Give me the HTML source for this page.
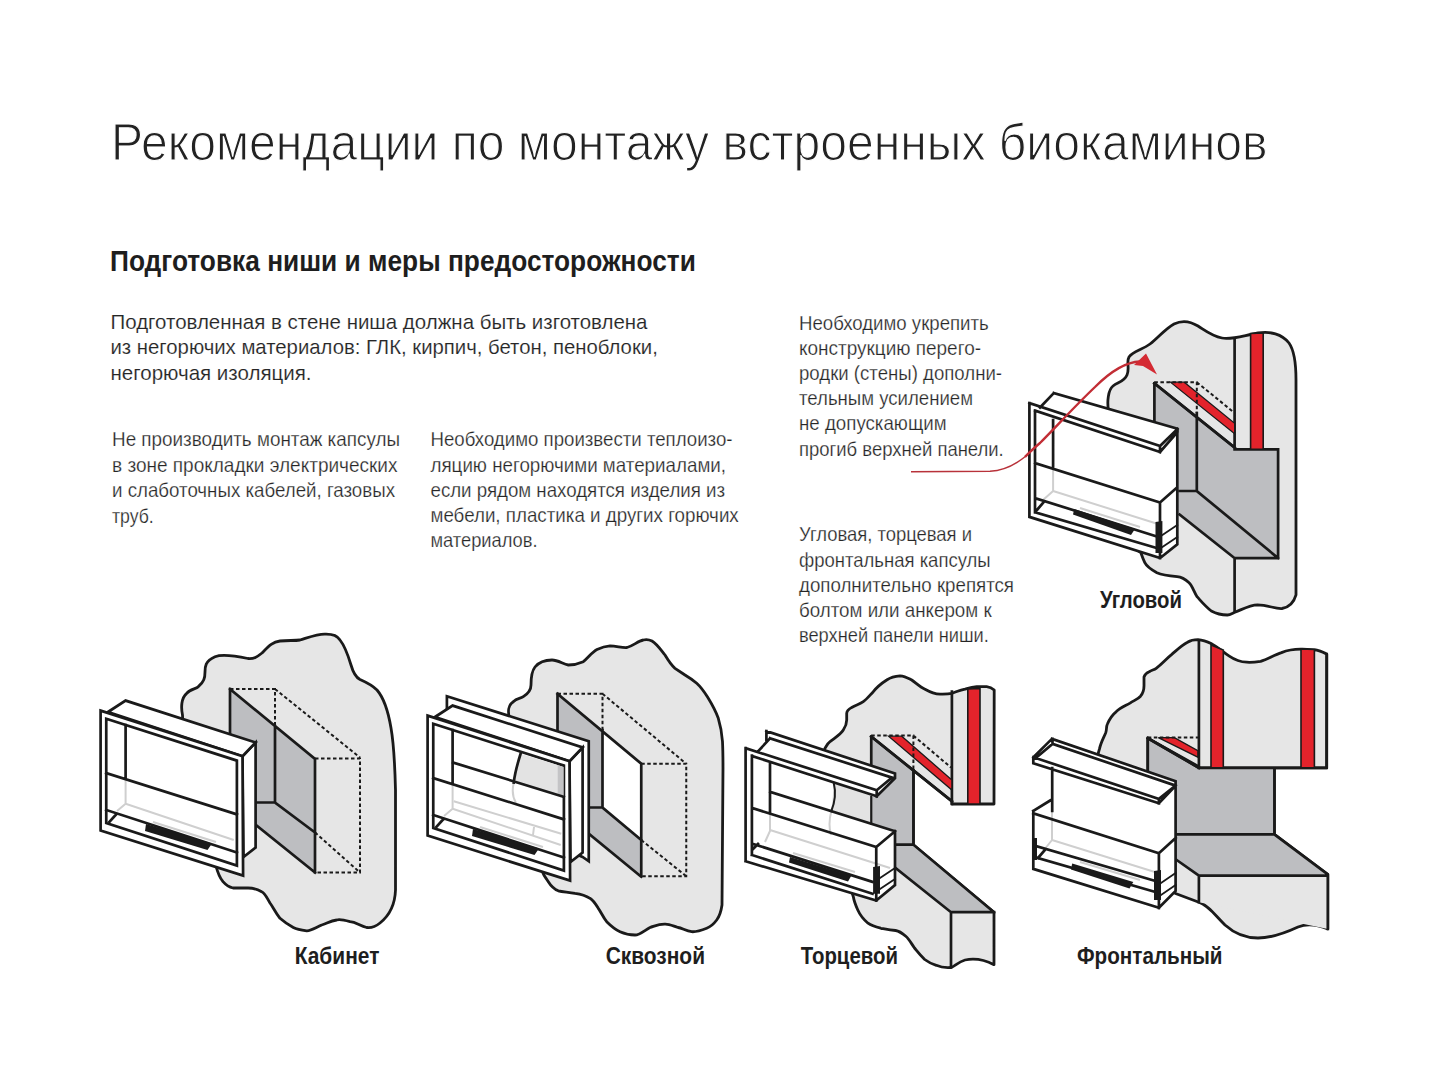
<!DOCTYPE html>
<html><head><meta charset="utf-8"><style>
html,body{margin:0;padding:0;background:#fff;width:1440px;height:1080px;overflow:hidden}
svg{display:block;font-family:"Liberation Sans",sans-serif}
</style></head><body>
<svg width="1440" height="1080" viewBox="0 0 1440 1080">
<defs>
<style>
.b{fill:#e6e6e6;stroke:#1a1a1a;stroke-width:2.8;stroke-linejoin:round}
.g{fill:#bdbec1}
.gl{fill:#bdbec1;stroke:#1a1a1a;stroke-width:2.4;stroke-linejoin:miter}
.l{fill:none;stroke:#1a1a1a;stroke-width:2.7;stroke-linecap:square}
.d{fill:none;stroke:#1a1a1a;stroke-width:2;stroke-dasharray:3.5 2.5}
.w{fill:#fff;stroke:#1a1a1a;stroke-width:2.7;stroke-linejoin:miter}
.lg{fill:none;stroke:#cfcfcf;stroke-width:2}
.bk{fill:#1a1a1a}
.r{fill:#e3232b;stroke:#1a1a1a;stroke-width:1.6}
</style>
</defs>

<!-- ===== 1 Кабинет ===== -->
<g id="kab">
<path class="b" d="M216,866 C205,845 183,740 182.5,715 C181,708 181,698 186.7,693.3 C190,689 196,689 198.3,686.7 C204,682 205,678 205,672 C205,667 205,661 215,656.7 C222,654 236,656 248,658.5 C254,659 257,657 262,653 C268,647 272,642 280,641 C288,640 294,641 300,640 C310,637 318,634 325,634.2 C332,634 337,635 340,640 C344,645 348,655 351,665 C353,672 355,677 360,679.5 C368,683 372,685 377,690 C383,697 388,710 391,728 C394,745 395,770 395.5,790 L395.5,890 C395,905 390,915 380,923 C375,927 370,928 366.7,927.5 C360,926 356,922 350,921.7 C344,920 340,919 336.7,920 C330,921 326,924 321.7,925 C315,928 311,931 306.7,930.8 C300,930 296,929 293.3,927.5 C287,924 283,921 280,918.3 C275,912 273,907 270,903 C267,898 265,893 261.7,891.7 C257,889 253,888 248,888 L233,888 C228,887 225,884 223,881.7 C220,878 218,874 216,866 Z"/>
<polygon class="g" points="230,689 315,759 315,872.5 256,825 230,806"/>
<path class="l" d="M256,825 L315,872.5 M230,689 L315,759 L315,872.5 M275,726 L275,802.5 L315,832.5 M256,802.5 L275,802.5 M230,689 L230,740"/>
<path class="d" d="M230,689 H275 V726 M275,689 L360,757.5 M315,758.5 H360 V872.5 H315 M315,832.5 L360,872.5"/>
</g>
<g id="cap1">
<polygon class="w" points="242.5,756.25 255.6,742.5 255.6,847.5 243.5,857"/>
<polygon class="w" points="108,712 125.6,700.6 255.6,742.5 242.5,756.25"/>
<polygon class="w" points="100.6,710.6 242.5,756.25 243.1,875.6 100.6,830.6"/>
<polygon class="w" points="106.25,718.75 236.9,760.6 236.9,865.6 106.25,823"/>
<path class="lg" d="M125.6,779 V803.75 L233.75,840 M125.6,803.75 L117,811 M153,822 L216,842"/>
<path class="l" d="M125.6,725 V778.75 M106.25,773 L236.9,814.4 M106.25,810 L236.9,852.5 M109.4,821.9 L115.6,815"/>
<polygon class="bk" points="146,824 212,843.5 207.5,850 145,831"/>
</g>
<!-- ===== 2 Сквозной ===== -->
<g id="skv">
<path class="b" d="M543,873 C530,840 510,745 509.2,716.7 C508,712 508,705 513.3,701.7 C517,698 520,699 523.3,696.7 C529,693 531,690 531,685 C531,680 531,672 535,667 C540,661 546,660 552,660 C558,660 563,664 568.3,665 C574,665 578,664 583.3,661.7 C588,658 592,652 597,649.5 C602,647 606,646 610,645.8 C617,646 622,648 627,647.5 C633,646 638,641 643.3,640 C647,639 650,640 652,641 C657,644 661,650 665,655 C668,660 671,665 675,668.3 C679,671 682,673 685,675 C690,678 693,680 696.7,683.3 C702,688 705,693 708.3,698.3 C713,706 716,712 718.3,718.3 C721,727 722,735 722.5,741.7 C723,752 723,760 723,768 L722,905 C721,912 719,917 716.7,920 C713,925 710,927 706.7,928.3 C700,931 696,932 691.7,931.7 C686,931 682,928 678,927.5 C673,926 669,924 665,924.2 C659,924 655,926 650,927.5 C645,930 640,935 635,935 C630,935 625,934 620,931.7 C614,929 610,925 606.7,921.7 C603,917 601,912 598.3,908.3 C595,903 593,900 590,898.3 C585,895 580,894 575,893.3 C569,892 563,892 558.3,890.8 C554,889 551,886 548.3,881.7 C546,878 544,876 543,873 Z"/>
<polygon class="g" points="557.5,693.75 602.5,731 602.5,807.5 641.25,840 641.25,877.5 590,835 557.5,810"/>
<polygon fill="#fff" points="602.5,731 641.25,763.75 641.25,840 602.5,807.5"/>
<path class="l" d="M588.3,833.3 L641.25,876.7 M557.5,693.75 L641.25,763.75 V876.25 M602.5,730 V807.5 L641.25,840 M590,807.5 H602.5 M557.5,693.75 V745"/>
<path class="d" d="M557.5,693.75 H602.5 V730 M602.5,693.75 L686.25,763.75 M641.25,763.75 H686.25 V876.25 H641.25 M641.25,840 L686.25,876.25"/>
<polygon class="w" points="446.9,696.25 588.75,741.25 588.75,861.25 582.6,857 446.9,800"/>
<g transform="translate(327,5)">
<polygon class="w" points="242.5,756.25 255.6,742.5 255.6,847.5 243.5,857"/>
<polygon class="w" points="108,712 125.6,700.6 255.6,742.5 242.5,756.25"/>
<polygon class="w" points="100.6,710.6 242.5,756.25 243.1,875.6 100.6,830.6"/>
<polygon class="w" points="106.25,718.75 236.9,760.6 236.9,865.6 106.25,823"/>
</g>
<polygon fill="#e3e3e3" points="520.6,753.75 557.5,765 557.5,794.5 513.75,781"/>
<polygon fill="#c4c4c6" points="557.5,765 563.75,767 563.75,797 557.5,795"/>
<path class="lg" d="M513.75,783 C512,790 513,798 516,803 M453.75,801.25 L561.25,833.75 M534,827 L533,835"/>
<path class="l" d="M520.6,753.75 C518,762 515,772 513.75,782.5 M453.1,762.5 L563.75,796.9"/>
<g transform="translate(327,5)">
<path class="lg" d="M125.6,779 V803.75 L233.75,840 M125.6,803.75 L117,811 M153,822 L216,842"/>
<path class="l" d="M125.6,725 V778.75 M106.25,773 L236.9,814.4 M106.25,810 L236.9,852.5 M109.4,821.9 L115.6,815"/>
<polygon class="bk" points="146,824 212,843.5 207.5,850 145,831"/>
</g>
</g>
<!-- ===== 3 Торцевой ===== -->
<g id="torc">
<path class="b" d="M845,865 C830,830 815,770 825,748.3 C827,745 828,743 830,741.7 C836,737 841,734 843.3,730 C846,726 846.7,723 846.7,720 L846.7,713.3 C847,710 849,709 851.7,707.5 C856,705 860,704 863.3,701.7 C867,699 870,695 873.3,691.7 C877,687 882,683 886.7,680 C891,677 896,676 900,675.8 C905,676 908,678 911.7,680 C916,683 920,687 925,689.2 C930,692 935,694 940,694.2 C944,694 948,694 951.7,693.3 C956,692 960,690 965,689.2 C969,688 972,687 976.7,686.7 L986.7,686.7 C990,687 992,688 994.2,690 L994,804 L951.9,804 L951.9,801.25 L913.4,770.4 L913.4,844.7 L994,912.2 L994,964.7 C985,960 975,958 965,960 C958,962 955,966 951,967.5 C945,968 940,967 936.3,965.3 C932,964 928,962 924.7,959.5 C920,955 917,951 914.5,948 C911,943 909,939 905.8,936.3 C902,933 899,931 895.6,930.5 C890,930 885,929 881,928.3 C876,927 872,926 868,923.2 C863,919 860,915 857.8,910 C856,906 854,901 853.4,897 C851,890 848,878 845,865 Z"/>
<polygon class="g" points="871.25,736.6 913.4,770.4 913.4,844.7 994,912.2 951,912.2 895.6,868 871.25,850"/>
<path class="l" d="M913.4,770.4 V844.7 M871.25,736.6 L913.4,770.4 M871.25,736.6 V850 M895.6,844.7 H913.4 M895.6,868 L951,912.2 H994 M951,912.2 V967.5 M913.4,844.7 L994,912.2 M951.9,691.6 V804"/>
<polygon class="r" points="967.8,689 980,688.5 980,804 967.8,804"/>
<polygon fill="#e3232b" stroke="#1a1a1a" stroke-width="1.3" points="888.5,736.2 901.7,736.2 951.9,780 951.9,790"/>
<path class="d" d="M871.25,735.6 H913.4 V770 M913.4,735.6 L951,767.5"/>
<path class="l" d="M871.25,736.6 L951.9,801.25"/>
<!-- capsule -->
<polygon fill="#fff" points="746.1,748.3 766.4,731.1 895,773.5 895,885 876.25,900.6 745.6,861.25"/>
<polygon fill="#e3e3e3" points="834,783 871.25,795 871.25,823.5 831.25,811.25"/>
<polygon class="g" points="871.25,797 876.7,797 895,778.3 895,831.25 871.25,823.75"/>
<path class="lg" d="M770,813 V831 L765,842 M770,830 L890,868 M831.25,811.25 C829,820 829,828 831,835 M793,853 L855,872"/>
<path class="l" d="M766.4,731.1 L895,773.5 V778.3 L876.7,796.3 M770,738.3 L892,777.6 L876.7,790.3 M746.1,748.3 L876.7,790.3 V796.3 M752.2,756.1 L876.7,796.3 M757.8,751.7 L770,738.3 M766.4,731.1 V740 M745.6,748.1 V861.25 M751.9,755.6 V855 M770,762.5 V813 M770,791.9 L895,831.25 M752.5,808.1 L876.25,847 L895,831.25 M876.25,847 V900.6 M895,831.25 V885 L876.25,900.6 L745.6,861.25 M751.9,855 L872.5,893.75 M752.5,843.75 L872.5,881.9 M753,849 L758,844"/>
<path class="l" d="M833.75,783 C836,792 835,802 831.25,811.25" style="stroke-width:2"/><path class="l" d="M871.25,797 V823.5" style="stroke-width:2.2"/>
<polygon class="bk" points="790,857 851.25,875.8 848,881.5 789,862.5"/>
<polygon class="bk" points="873.1,866.9 880,866 880,893.75 873.1,893.75"/>
<path class="l" d="M880,878 L895,868 M880,889 L895,879" style="stroke-width:1.8"/>
</g>
<!-- ===== 4 Фронтальный ===== -->
<g id="front">
<path class="b" d="M1090,860 C1080,830 1095,770 1097.8,757.1 C1098,753 1099,750 1099.6,748.4 C1101,742 1104,737 1105.7,732.7 C1107,729 1106,727 1107.4,724 C1110,718 1112,715 1116.1,711.8 C1120,708 1125,706 1130,703.1 C1135,700 1138,699 1140.5,696.2 C1144,692 1144,689 1144,685.7 L1144,677 C1145,674 1146,673 1149.2,671.8 C1152,670 1154,670 1156.2,668.3 C1162,664 1166,659 1171.8,654.4 C1178,649 1182,645 1187.5,642.2 C1191,640 1195,639.6 1198,639.6 C1204,640 1208,642 1211.9,643.9 C1218,647 1223,652 1229.3,656.1 C1235,660 1241,662 1246.7,662.2 C1251,662.5 1256,662 1260.6,661.3 C1268,659 1274,655 1281.5,652.6 C1288,650 1295,649 1302.4,649.2 L1316.3,650 C1320,651 1324,652 1326.8,654.4 L1326.7,767.8 L1198.9,767.8 L1198.9,766.7 L1147.8,738.2 L1147.8,770 L1274.4,767.8 L1274.4,834.4 L1327.8,874.4 L1327.8,928.9 C1318,925 1308,923 1298,927 C1285,933 1272,938 1258,938 C1245,938 1235,934 1225,925 C1215,915 1208,905 1198.9,902.2 L1176.2,893.7 L1150,880 Z"/>
<polygon class="g" points="1147.8,738.2 1198.9,767.8 1274.4,767.8 1274.4,834.4 1327.8,874.4 1198.9,875.6 1176.7,860 1147.8,860"/>
<polygon class="b" points="1198.9,875.6 1327.8,874.4 1327.8,928.9 1198.9,902.2" style="stroke:none"/>
<path class="l" d="M1147.8,738.2 L1198.9,767.8 M1147.8,738.2 V790 M1274.4,767.8 V834.4 H1176.7 M1274.4,834.4 L1327.8,874.4 V928.9 M1176.7,860 L1198.9,875.6 H1327.8 M1198.9,875.6 V902.2 M1198.9,641 V767.8 H1326.7 V654"/>
<polygon class="r" points="1211,645 1223.3,650 1223.3,767.8 1211,767.8"/>
<polygon class="r" points="1301,649 1314.4,649.5 1314.4,767.8 1301,767.8"/>
<polygon fill="#e3232b" stroke="#1a1a1a" stroke-width="1.3" points="1158.3,737.6 1174.4,737.6 1197.8,750.6 1197.8,757.2"/>
<path class="d" d="M1147.8,737.5 H1198.9"/>
<path class="l" d="M1147.8,738.2 L1198.9,767.8"/>
<!-- capsule -->
<polygon fill="#fff" points="1033.3,757.2 1051.9,738.9 1175.6,781.1 1175.6,891 1158.9,907.8 1033.3,868.9"/>
<path class="lg" d="M1052,812 V840 L1040,855 M1052,840 L1158,873 M1080,862 L1140,880"/>
<path class="l" d="M1051.9,738.9 L1175.6,781.1 V785.6 L1158.9,803.3 L1033.3,763.3 V757.2 L1051.9,738.9 M1052.5,743.9 L1175.6,785.6 M1052.5,743.9 L1037,757 M1052.5,738.9 V743.9 M1033.3,757.2 L1158.9,798.9 V803.3 M1158.9,798.9 L1175.6,785.6 M1052.2,768 V811 M1175.6,785.6 V891 L1158.9,907.8 M1033.3,811 L1051,800 M1033.3,811 V868.9 L1158.9,907.8 M1033.3,813.3 L1158.9,853.3 L1175.6,838 M1158.9,853.3 V907.8 M1038,858 L1158.9,893 M1036,846 L1158.9,882 M1038,858 L1045,850"/>
<polygon class="bk" points="1072.2,863.5 1133.3,882 1129.5,888.5 1071,869.5"/>
<polygon class="bk" points="1154,871 1161,870 1161,900 1154,900"/>
<polygon class="bk" points="1033.3,838 1037,838 1037,860 1033.3,860"/>
<path class="l" d="M1161,883 L1175.6,873 M1161,895 L1175.6,885" style="stroke-width:1.8"/>
</g>
<!-- ===== 5 Угловой ===== -->
<g id="ugl">
<path class="b" d="M1100,500 C1095,460 1105,420 1108.5,410.8 C1107,402 1108,390 1113,386 C1118,382 1124,382 1127,375 C1130,368 1126,362 1129,357 C1133,351 1142,350 1150,344 C1158,338 1165,329 1174,324 C1182,320 1190,321 1198,326 C1206,331 1212,336 1222,338 C1232,340 1245,335 1258,333 C1270,331 1282,334 1289,343 C1294,350 1296,360 1296,380 L1296,594.8 C1294,602 1290,607 1282,608.5 C1275,609 1268,605 1257.6,604.9 C1250,605 1243,609 1235.5,612 C1232,613.5 1230,615 1227.4,615 C1220,615 1215,613 1211.3,611 C1205,606 1201,601 1197.2,596.9 C1194,592 1192,585 1189.1,582.8 C1185,579 1181,577 1177.1,576.7 C1170,576 1162,575 1156.9,572.7 C1152,570 1147,567 1144.8,562.6 C1143,559 1142,556 1140.8,552.6 C1120,540 1105,520 1100,500 Z"/>
<polygon class="g" points="1154.4,383.3 1234.6,447.5 1234.6,449.3 1278.1,449.3 1278.1,558.1 1234.6,558.1 1179.6,514.6 1154.4,500"/>
<path class="l" d="M1154.4,383.3 L1234.6,447.5 M1154.4,383.3 V440 M1234.6,338.6 V449.3 H1278.1 V558.1 H1234.6 V610.8 M1196.8,413 V491 L1278.1,558.1 M1179.6,491 H1196.8 M1179.6,514.6 L1234.6,558.1"/>
<polygon class="r" points="1250.6,333.5 1263.2,333 1263.2,449.3 1250.6,449.3"/>
<polygon fill="#e3232b" stroke="#1a1a1a" stroke-width="1.2" points="1170.4,382.2 1184.2,382.2 1234.6,423.4 1234.6,433.75"/>
<path class="d" d="M1154.4,382.2 H1196.8 V413 M1196.8,382.2 L1233.4,412"/>
<path class="l" d="M1154.4,383.3 L1234.6,447.5"/>
<!-- capsule -->
<polygon fill="#fff" points="1029.4,403.1 1053.75,393.1 1177.5,428.75 1177.5,544.4 1160.1,558.1 1029.5,516.9"/>
<path class="lg" d="M1053.1,467.5 V491 L1043,500 M1053.1,491 L1158,524 M1080,508 L1140,527"/>
<path class="l" d="M1053.75,393.1 L1177.5,428.75 V432 L1160,452 M1029.4,403.1 L1160,446 V452 M1160,446 L1177.5,429 M1035,410.6 L1160,452 M1040,407.5 L1053.75,393.1 M1029.4,403.1 V516.9 L1160.1,558.1 L1177.3,544.4 V432 M1035,410.6 V512.3 M1053.1,420 V467.5 M1035,463.1 L1160,502.5 L1177,487.5 M1160,502.5 V558.1 M1036.4,498.5 L1160,537.5 M1035.2,512.3 L1160,549 M1037,510 L1043,503"/>
<polygon class="bk" points="1074.2,509 1134.9,529 1131,535 1073,514.5"/>
<polygon class="bk" points="1155.5,522 1162.4,521 1162.4,553 1155.5,553"/>
<path class="l" d="M1162.4,535 L1177.3,525 M1162.4,547 L1177.3,537" style="stroke-width:1.8"/>
</g>
<!-- red arrow -->
<path d="M911,471.8 L990,471.3 C1003,470.5 1015,465 1026,456" fill="none" stroke="#b8323a" stroke-width="1.5"/><path d="M1025,456.8 C1030,452 1035,447 1040,443 C1055,428 1075,406 1095,387 C1110,372 1125,362 1140,361.5" fill="none" stroke="#c22d35" stroke-width="2.4"/>
<polygon fill="#d42a33" points="1134,365 1146,353.5 1157,374.5 1143,366"/>

<text x="111" y="159.5" textLength="1156.5" lengthAdjust="spacingAndGlyphs" font-size="52.5" font-weight="normal" fill="#222" stroke="#fff" stroke-width="1.2">Рекомендации по монтажу встроенных биокаминов</text>
<text x="110" y="271.3" textLength="585.8" lengthAdjust="spacingAndGlyphs" font-size="30" font-weight="bold" fill="#1e1e1e">Подготовка ниши и меры предосторожности</text>
<text x="110.5" y="328.5" textLength="537" lengthAdjust="spacingAndGlyphs" font-size="21" font-weight="normal" fill="#262626" stroke="#fff" stroke-width="0.15">Подготовленная в стене ниша должна быть изготовлена</text>
<text x="110.5" y="354.0" textLength="547.3" lengthAdjust="spacingAndGlyphs" font-size="21" font-weight="normal" fill="#262626" stroke="#fff" stroke-width="0.15">из негорючих материалов: ГЛК, кирпич, бетон, пеноблоки,</text>
<text x="110.5" y="379.5" textLength="201" lengthAdjust="spacingAndGlyphs" font-size="21" font-weight="normal" fill="#262626" stroke="#fff" stroke-width="0.15">негорючая изоляция.</text>
<text x="112" y="446.0" textLength="288" lengthAdjust="spacingAndGlyphs" font-size="21" font-weight="normal" fill="#262626" stroke="#fff" stroke-width="0.25">Не производить монтаж капсулы</text>
<text x="112" y="471.5" textLength="285.5" lengthAdjust="spacingAndGlyphs" font-size="21" font-weight="normal" fill="#262626" stroke="#fff" stroke-width="0.25">в зоне прокладки электрических</text>
<text x="112" y="497.0" textLength="283" lengthAdjust="spacingAndGlyphs" font-size="21" font-weight="normal" fill="#262626" stroke="#fff" stroke-width="0.25">и слаботочных кабелей, газовых</text>
<text x="112" y="522.5" textLength="41.75" lengthAdjust="spacingAndGlyphs" font-size="21" font-weight="normal" fill="#262626" stroke="#fff" stroke-width="0.25">труб.</text>
<text x="430.5" y="446.25" textLength="302.0" lengthAdjust="spacingAndGlyphs" font-size="21" font-weight="normal" fill="#262626" stroke="#fff" stroke-width="0.25">Необходимо произвести теплоизо-</text>
<text x="430.5" y="471.55" textLength="295.5" lengthAdjust="spacingAndGlyphs" font-size="21" font-weight="normal" fill="#262626" stroke="#fff" stroke-width="0.25">ляцию негорючими материалами,</text>
<text x="430.5" y="496.85" textLength="294.5" lengthAdjust="spacingAndGlyphs" font-size="21" font-weight="normal" fill="#262626" stroke="#fff" stroke-width="0.25">если рядом находятся изделия из</text>
<text x="430.5" y="522.15" textLength="308.25" lengthAdjust="spacingAndGlyphs" font-size="21" font-weight="normal" fill="#262626" stroke="#fff" stroke-width="0.25">мебели, пластика и других горючих</text>
<text x="430.5" y="547.45" textLength="107.0" lengthAdjust="spacingAndGlyphs" font-size="21" font-weight="normal" fill="#262626" stroke="#fff" stroke-width="0.25">материалов.</text>
<text x="799" y="330.0" textLength="189.75" lengthAdjust="spacingAndGlyphs" font-size="21" font-weight="normal" fill="#262626" stroke="#fff" stroke-width="0.25">Необходимо укрепить</text>
<text x="799" y="355.1" textLength="182" lengthAdjust="spacingAndGlyphs" font-size="21" font-weight="normal" fill="#262626" stroke="#fff" stroke-width="0.25">конструкцию перего-</text>
<text x="799" y="380.2" textLength="203" lengthAdjust="spacingAndGlyphs" font-size="21" font-weight="normal" fill="#262626" stroke="#fff" stroke-width="0.25">родки (стены) дополни-</text>
<text x="799" y="405.3" textLength="174" lengthAdjust="spacingAndGlyphs" font-size="21" font-weight="normal" fill="#262626" stroke="#fff" stroke-width="0.25">тельным усилением</text>
<text x="799" y="430.4" textLength="147.60000000000002" lengthAdjust="spacingAndGlyphs" font-size="21" font-weight="normal" fill="#262626" stroke="#fff" stroke-width="0.25">не допускающим</text>
<text x="799" y="455.5" textLength="204.75" lengthAdjust="spacingAndGlyphs" font-size="21" font-weight="normal" fill="#262626" stroke="#fff" stroke-width="0.25">прогиб верхней панели.</text>
<text x="799" y="541.25" textLength="173" lengthAdjust="spacingAndGlyphs" font-size="21" font-weight="normal" fill="#262626" stroke="#fff" stroke-width="0.25">Угловая, торцевая и</text>
<text x="799" y="566.55" textLength="191.60000000000002" lengthAdjust="spacingAndGlyphs" font-size="21" font-weight="normal" fill="#262626" stroke="#fff" stroke-width="0.25">фронтальная капсулы</text>
<text x="799" y="591.85" textLength="215" lengthAdjust="spacingAndGlyphs" font-size="21" font-weight="normal" fill="#262626" stroke="#fff" stroke-width="0.25">дополнительно крепятся</text>
<text x="799" y="617.15" textLength="192.60000000000002" lengthAdjust="spacingAndGlyphs" font-size="21" font-weight="normal" fill="#262626" stroke="#fff" stroke-width="0.25">болтом или анкером к</text>
<text x="799" y="642.45" textLength="189.79999999999995" lengthAdjust="spacingAndGlyphs" font-size="21" font-weight="normal" fill="#262626" stroke="#fff" stroke-width="0.25">верхней панели ниши.</text>
<text x="294.7" y="963.6" textLength="84.69999999999999" lengthAdjust="spacingAndGlyphs" font-size="24.4" font-weight="bold" fill="#1e1e1e">Кабинет</text>
<text x="605.7" y="963.6" textLength="99.29999999999995" lengthAdjust="spacingAndGlyphs" font-size="24.4" font-weight="bold" fill="#1e1e1e">Сквозной</text>
<text x="800.8" y="963.6" textLength="97.20000000000005" lengthAdjust="spacingAndGlyphs" font-size="24.4" font-weight="bold" fill="#1e1e1e">Торцевой</text>
<text x="1077" y="963.6" textLength="145.5" lengthAdjust="spacingAndGlyphs" font-size="24.4" font-weight="bold" fill="#1e1e1e">Фронтальный</text>
<text x="1100" y="607.5" textLength="82" lengthAdjust="spacingAndGlyphs" font-size="24.4" font-weight="bold" fill="#1e1e1e">Угловой</text>
</svg>
</body></html>
